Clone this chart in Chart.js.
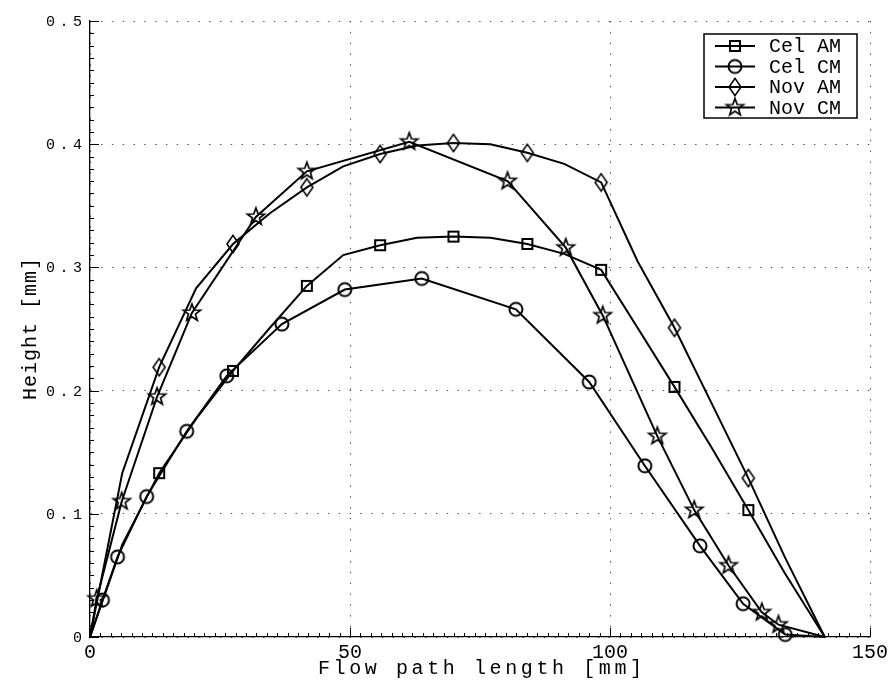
<!DOCTYPE html>
<html>
<head>
<meta charset="utf-8">
<script src="https://cdn.jsdelivr.net/npm/chart.js@4.4.0/dist/chart.umd.min.js"></script>
<style>
  html, body { margin: 0; padding: 0; background: #fff; }
</style>
</head>
<body>
<canvas id="profile" width="891" height="694"></canvas>
<script>
// flow path length [mm] -> height [mm]
const amX = [0, 6.2, 13.3, 20.4, 27.5, 34.6, 41.7, 48.7, 55.8, 62.9, 69.9, 77.0, 84.1, 91.2, 98.3, 105.3, 112.4, 119.5, 126.6, 133.6, 141.3]
const celAM = [0, 0.075, 0.133, 0.177, 0.216, 0.251, 0.285, 0.310, 0.318, 0.324, 0.325, 0.324, 0.319, 0.311, 0.298, 0.251, 0.203, 0.154, 0.103, 0.052, 0]
const novAM = [0, 0.133, 0.219, 0.283, 0.319, 0.344, 0.365, 0.382, 0.392, 0.399, 0.401, 0.400, 0.393, 0.384, 0.369, 0.305, 0.251, 0.190, 0.129, 0.065, 0]

const celCMx = [0, 2.4, 5.3, 10.9, 18.6, 26.3, 36.9, 49.0, 63.8, 81.9, 96.0, 106.7, 117.3, 125.6, 133.7, 141.3]
const celCM = [0, 0.030, 0.065, 0.114, 0.167, 0.212, 0.254, 0.282, 0.291, 0.266, 0.207, 0.139, 0.074, 0.027, 0.002, 0]

const novCMx = [0, 1.3, 6.1, 12.9, 19.6, 31.9, 41.7, 61.4, 80.3, 91.5, 98.6, 109.1, 116.2, 122.8, 129.2, 132.4, 141.3]
const novCM = [0, 0.031, 0.110, 0.195, 0.263, 0.341, 0.378, 0.402, 0.370, 0.316, 0.261, 0.163, 0.103, 0.058, 0.020, 0.010, 0]

const seriesNames = ['Cel AM', 'Cel CM', 'Nov AM', 'Nov CM']
const xTicks = [0, 50, 100, 150]
const yTicks = [0, 0.1, 0.2, 0.3, 0.4, 0.5]

const FONT = '"Liberation Mono", "DejaVu Sans Mono", monospace'

/**
 * Open marker drawn onto a small canvas, used as a pointStyle image
 * @param {string} kind
 * @returns {HTMLCanvasElement}
 */
function marker(kind) {
    const c = document.createElement('canvas')
    c.width = 24
    c.height = 24
    const g = c.getContext('2d')
    g.strokeStyle = '#000'
    g.lineWidth = 2
    g.translate(12, 12)
    g.beginPath()
    if (kind === 'square') {
        g.rect(-5, -5, 10, 10)
    } else if (kind === 'circle') {
        g.arc(0, 0, 6.5, 0, Math.PI * 2)
    } else if (kind === 'diamond') {
        g.lineWidth = 1.6
        g.moveTo(0, -8.6)
        g.lineTo(6, 0)
        g.lineTo(0, 8.6)
        g.lineTo(-6, 0)
        g.closePath()
    } else {
        g.lineWidth = 1.7
        for (let i = 0; i < 10; i++) {
            const r = i % 2 === 0 ? 9 : 3.7
            const a = -Math.PI / 2 + i * Math.PI / 5
            if (i === 0) g.moveTo(r * Math.cos(a), r * Math.sin(a))
            else g.lineTo(r * Math.cos(a), r * Math.sin(a))
        }
        g.closePath()
    }
    g.stroke()
    return c
}

const markers = [marker('square'), marker('circle'), marker('diamond'), marker('star')]

const toPoints = (xs, ys) => xs.map((x, i) => ({ x, y: ys[i] }))

// AM profiles carry a marker on every second vertex, CM profiles on every inner vertex
const everyOther = ctx => {
    const n = ctx.dataset.data.length
    const i = ctx.dataIndex
    return (i > 0 && i < n - 1 && i % 2 === 0) ? 5 : 0
}
const inner = ctx => {
    const n = ctx.dataset.data.length
    const i = ctx.dataIndex
    return (i > 0 && i < n - 1) ? 5 : 0
}

function dataset(idx, points, radius) {
    return {
        label: seriesNames[idx],
        data: points,
        showLine: true,
        borderColor: '#000',
        backgroundColor: '#000',
        borderWidth: 2,
        pointStyle: markers[idx],
        pointRadius: radius,
        clip: false
    }
}

const axisBits = {
    id: 'axisBits',
    beforeDatasetsDraw(chart) {
        const { ctx, chartArea: a, scales: { x, y } } = chart
        ctx.save()
        ctx.strokeStyle = '#000'
        ctx.lineWidth = 1
        ctx.beginPath()
        // minor ticks
        for (let v = 0; v <= 150; v += 2) {
            const px = Math.round(x.getPixelForValue(v)) + 0.5
            ctx.moveTo(px, a.bottom)
            ctx.lineTo(px, a.bottom - 4)
        }
        for (let k = 0; k <= 50; k++) {
            const py = Math.round(y.getPixelForValue(k / 100)) + 0.5
            ctx.moveTo(a.left, py)
            ctx.lineTo(a.left + 4, py)
        }
        // major ticks
        for (const v of xTicks) {
            const px = Math.round(x.getPixelForValue(v)) + 0.5
            ctx.moveTo(px, a.bottom)
            ctx.lineTo(px, a.bottom - 9)
        }
        for (const v of yTicks) {
            const py = Math.round(y.getPixelForValue(v)) + 0.5
            ctx.moveTo(a.left, py)
            ctx.lineTo(a.left + 9, py)
        }
        ctx.stroke()
        ctx.restore()
    },
    afterDraw(chart) {
        const { ctx, chartArea: a, scales: { y } } = chart
        ctx.save()
        ctx.fillStyle = '#000'

        // y tick labels
        ctx.font = '15px ' + FONT
        ctx.letterSpacing = '4.5px'
        ctx.textAlign = 'right'
        ctx.textBaseline = 'middle'
        for (const v of yTicks) {
            const label = v === 0 ? '0' : v.toFixed(1)
            ctx.fillText(label, a.left - 8 + 4.5, y.getPixelForValue(v) + 1)
        }

        // axis titles
        ctx.font = '20px ' + FONT
        ctx.letterSpacing = '3.6px'
        ctx.textAlign = 'center'
        ctx.textBaseline = 'alphabetic'
        ctx.fillText('Flow path length [mm]', (a.left + a.right) / 2 + 1.8, 674)

        ctx.save()
        ctx.translate(36, (a.top + a.bottom) / 2)
        ctx.rotate(-Math.PI / 2)
        ctx.font = '20px ' + FONT
        ctx.letterSpacing = '1px'
        ctx.fillText('Height [mm]', 0.5, 0)
        ctx.restore()

        // legend
        ctx.letterSpacing = '0px'
        const box = { left: 704, top: 34, right: 857, bottom: 118 }
        ctx.fillStyle = '#fff'
        ctx.fillRect(box.left, box.top, box.right - box.left, box.bottom - box.top)
        ctx.strokeStyle = '#000'
        ctx.lineWidth = 1.5
        ctx.strokeRect(box.left, box.top, box.right - box.left, box.bottom - box.top)
        ctx.font = '20px ' + FONT
        ctx.textAlign = 'left'
        ctx.textBaseline = 'middle'
        chart.data.datasets.forEach((ds, i) => {
            const ry = 46 + i * 20.5
            ctx.lineWidth = 2
            ctx.beginPath()
            ctx.moveTo(715, ry)
            ctx.lineTo(755, ry)
            ctx.stroke()
            const m = markers[i]
            ctx.drawImage(m, 735 - m.width / 2, ry - m.height / 2)
            ctx.fillStyle = '#000'
            ctx.fillText(ds.label, 769, ry + 1)
        })
        ctx.restore()
    }
}

const chart = new Chart(document.getElementById('profile').getContext('2d'), {
    type: 'scatter',
    data: {
        datasets: [
            dataset(0, toPoints(amX, celAM), everyOther),
            dataset(1, toPoints(celCMx, celCM), inner),
            dataset(2, toPoints(amX, novAM), everyOther),
            dataset(3, toPoints(novCMx, novCM), inner)
        ]
    },
    options: {
        responsive: false,
        animation: false,
        events: [],
        layout: { padding: { top: 21, right: 21, left: 0, bottom: 0 } },
        plugins: {
            legend: { display: false },
            tooltip: { enabled: false }
        },
        scales: {
            x: {
                type: 'linear',
                min: 0,
                max: 150,
                afterFit: s => {
                    s.height = 57
                    s.paddingLeft = 0
                    s.paddingRight = 0
                },
                afterBuildTicks: s => { s.ticks = xTicks.map(value => ({ value })) },
                ticks: {
                    color: '#000',
                    padding: 4,
                    maxRotation: 0,
                    font: { family: FONT, size: 20 },
                    callback: v => String(v)
                },
                grid: { color: '#555', lineWidth: 1, drawTicks: false },
                border: { color: '#000', width: 1.3, dash: [1.5, 9.3] }
            },
            y: {
                type: 'linear',
                min: 0,
                max: 0.5,
                afterFit: s => { s.width = 90 },
                afterBuildTicks: s => { s.ticks = yTicks.map(value => ({ value })) },
                ticks: { display: false },
                grid: { color: '#555', lineWidth: 1, drawTicks: false },
                border: { color: '#000', width: 1.3, dash: [1.5, 9.3] }
            }
        }
    },
    plugins: [axisBits]
})
</script>
</body>
</html>
